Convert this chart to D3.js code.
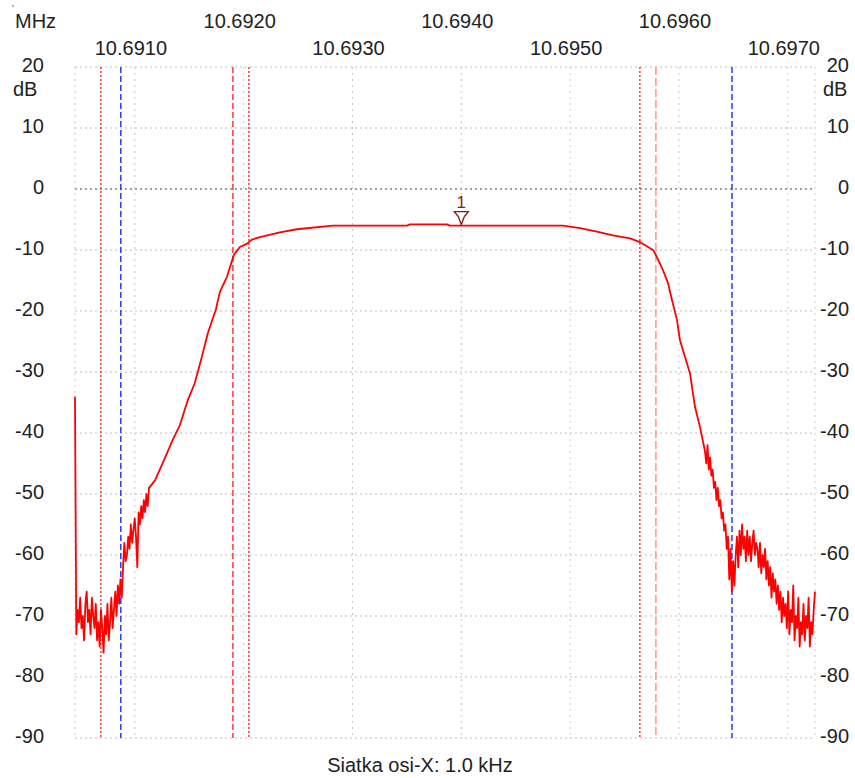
<!DOCTYPE html>
<html>
<head>
<meta charset="utf-8">
<script src="https://cdn.jsdelivr.net/npm/d3@7/dist/d3.min.js"></script>
<style>
  body { margin: 0; background: #fff; }
  text { font-family: "Liberation Sans", Arial, sans-serif; font-size: 20px; fill: #222; }
</style>
</head>
<body>
<svg width="855" height="778"></svg>
<script>
// sweep limits (MHz) and level range (dB)
const sweep = [10.69045, 10.69725];
const levels = [-90, 20];

const freqTicks = [10.6910, 10.6920, 10.6930, 10.6940, 10.6950, 10.6960, 10.6970];
const dbTicks = [20, 10, 0, -10, -20, -30, -40, -50, -60, -70, -80, -90];

// low side noise floor + start of skirt, evenly spaced trace samples
const lowStart = 10.69045, lowStop = 10.69113;
const lowDb = [-34, -73, -69, -71, -67, -72, -70, -74, -68, -66, -71, -69, -73, -67, -70, -72, -68, -74, -71, -75,
  -69, -72, -76, -70, -73, -68, -74, -71, -67, -72, -69, -66, -70, -65, -68, -64, -67, -62, -58, -61,
  -60, -57, -59, -55, -58, -56, -54, -57, -62, -53, -55, -52, -54, -51, -53, -50, -52, -49];

// smooth part of the response: [MHz, dB]
const passband = [
  [10.691184, -47.8], [10.691257, -44.9], [10.691349, -41.1], [10.691414, -38.7], [10.691487, -34.6],
  [10.691551, -31.8], [10.691616, -27.5], [10.691671, -23.6], [10.691744, -19.8], [10.691781, -16.9],
  [10.691846, -14.4], [10.691910, -10.8], [10.691965, -9.5], [10.692029, -9.0], [10.692075, -8.3],
  [10.692149, -7.9], [10.692333, -7.1], [10.692489, -6.6], [10.692820, -6.0], [10.693500, -6.0],
  [10.693528, -5.8], [10.693868, -5.8], [10.693895, -6.0], [10.694934, -6.0], [10.695090, -6.4],
  [10.695246, -7.0], [10.695393, -7.6], [10.695550, -8.1], [10.695641, -8.7], [10.695761, -10.0],
  [10.695779, -10.5], [10.695853, -13.3], [10.695899, -15.4], [10.695936, -18.2], [10.695982, -21.5],
  [10.696009, -24.8], [10.696055, -27.5], [10.696101, -30.2], [10.696147, -35.7], [10.696193, -39.0]
];

// high side skirt + noise floor, evenly spaced trace samples
const highStart = 10.696239, highStop = 10.69725;
const highDb = [-43, -45, -42, -46, -44, -47,
  -46, -49, -48, -51, -49, -52, -51, -54,
  -53, -56, -55, -59, -57,
  -64, -59, -66, -61, -65, -60,
  -57, -62, -56, -60, -55, -59, -57, -61,
  -56, -60, -57, -61, -58, -56, -60, -58,
  -59, -62, -58, -63, -60, -62, -59, -64,
  -61, -65, -62, -67, -63, -66, -64, -68,
  -65, -69, -66, -71, -67, -70, -68, -72,
  -66, -73, -69, -71, -65, -74, -70, -72, -67, -75, -71,
  -73, -68, -74, -70, -72, -67, -75, -71, -73, -69, -66];

// cursor lines
const cursorFreq = [10.690688, 10.690871, 10.691901, 10.692048, 10.695641, 10.695788, 10.696487];
const cursorKind = ["dot", "blue", "dash", "dot", "dot", "light", "blue"];

const markerFreq = 10.6940, markerDb = -6.0, markerLabel = "1";

const svg = d3.select("svg");

const x = d3.scaleLinear().domain(sweep).range([75, 815]);
const y = d3.scaleLinear().domain(levels).range([738, 67]);

// build trace
function samples(start, stop, vals) {
  let step = (stop - start) / (vals.length - 1);
  return vals.map((v, i) => [start + i * step, v]);
}
let trace = samples(lowStart, lowStop, lowDb)
  .concat(passband)
  .concat(samples(highStart, highStop, highDb));

/* ----------- grid ----------- */
let grid = svg.append("g");

grid.selectAll("line.h").data(dbTicks).enter()
  .append("line")
  .attr("x1", x(sweep[0])).attr("x2", x(sweep[1]))
  .attr("y1", d => y(d)).attr("y2", d => y(d))
  .attr("stroke", d => d == 0 ? "#444" : "#bcbcbc")
  .attr("stroke-dasharray", "2,3");

grid.selectAll("line.v").data(sweep.concat(freqTicks)).enter()
  .append("line")
  .attr("x1", d => x(d)).attr("x2", d => x(d))
  .attr("y1", y(levels[1])).attr("y2", y(levels[0]))
  .attr("stroke", "#c8c8c8")
  .attr("stroke-dasharray", "2,4");

/* ----------- cursors ----------- */
let cursorStyle = {
  dot: { c: "#ff2a2a", d: "2,2" },
  dash: { c: "#ff2a2a", d: "6,3" },
  light: { c: "#ff8a8a", d: "8,3" },
  blue: { c: "#1a2aff", d: "6,3" }
};
svg.append("g").selectAll("line").data(cursorFreq).enter()
  .append("line")
  .attr("x1", d => x(d)).attr("x2", d => x(d))
  .attr("y1", y(levels[1])).attr("y2", y(levels[0]))
  .attr("stroke", (d, i) => cursorStyle[cursorKind[i]].c)
  .attr("stroke-width", 1.4)
  .attr("stroke-dasharray", (d, i) => cursorStyle[cursorKind[i]].d);

/* ----------- trace ----------- */
let line = d3.line().x(d => x(d[0])).y(d => y(d[1]));
svg.append("path")
  .datum(trace)
  .attr("fill", "none")
  .attr("stroke", "#ff0000")
  .attr("stroke-width", 1.8)
  .attr("stroke-linejoin", "round")
  .attr("d", line);

/* ----------- marker ----------- */
let mx = x(markerFreq), my = y(markerDb);
svg.append("path")
  .attr("d", `M${mx - 7},${my - 14} L${mx + 7},${my - 14} L${mx + 3},${my - 9} L${mx},${my - 1} L${mx - 3},${my - 9} Z`)
  .attr("fill", "#fff")
  .attr("stroke", "#8b1c1c")
  .attr("stroke-width", 1.4);
svg.append("text")
  .attr("x", mx).attr("y", my - 18)
  .attr("text-anchor", "middle")
  .style("font-size", "17px")
  .style("fill", "#8b1c1c")
  .text(markerLabel);

/* ----------- labels ----------- */
svg.selectAll("text.fx").data(freqTicks).enter()
  .append("text")
  .attr("x", d => x(d) - 4)
  .attr("y", (d, i) => i % 2 == 0 ? 55 : 28)
  .attr("text-anchor", "middle")
  .text(d => d.toFixed(4));

svg.selectAll("text.dbl").data(dbTicks).enter()
  .append("text")
  .attr("x", 44).attr("y", d => y(d) + 5)
  .attr("text-anchor", "end")
  .text(d => d);

svg.selectAll("text.dbr").data(dbTicks).enter()
  .append("text")
  .attr("x", 849).attr("y", d => y(d) + 5)
  .attr("text-anchor", "end")
  .text(d => d);

svg.append("text").attr("x", 15).attr("y", 28).text("MHz");
svg.append("text").attr("x", 13).attr("y", 96).text("dB");
svg.append("text").attr("x", 823).attr("y", 96).text("dB");
svg.append("text").attr("x", 420).attr("y", 772).attr("text-anchor", "middle").text("Siatka osi-X: 1.0 kHz");

svg.append("rect").attr("x", 12).attr("y", 5).attr("width", 2).attr("height", 2).attr("fill", "#f0a0a0");
</script>
</body>
</html>
